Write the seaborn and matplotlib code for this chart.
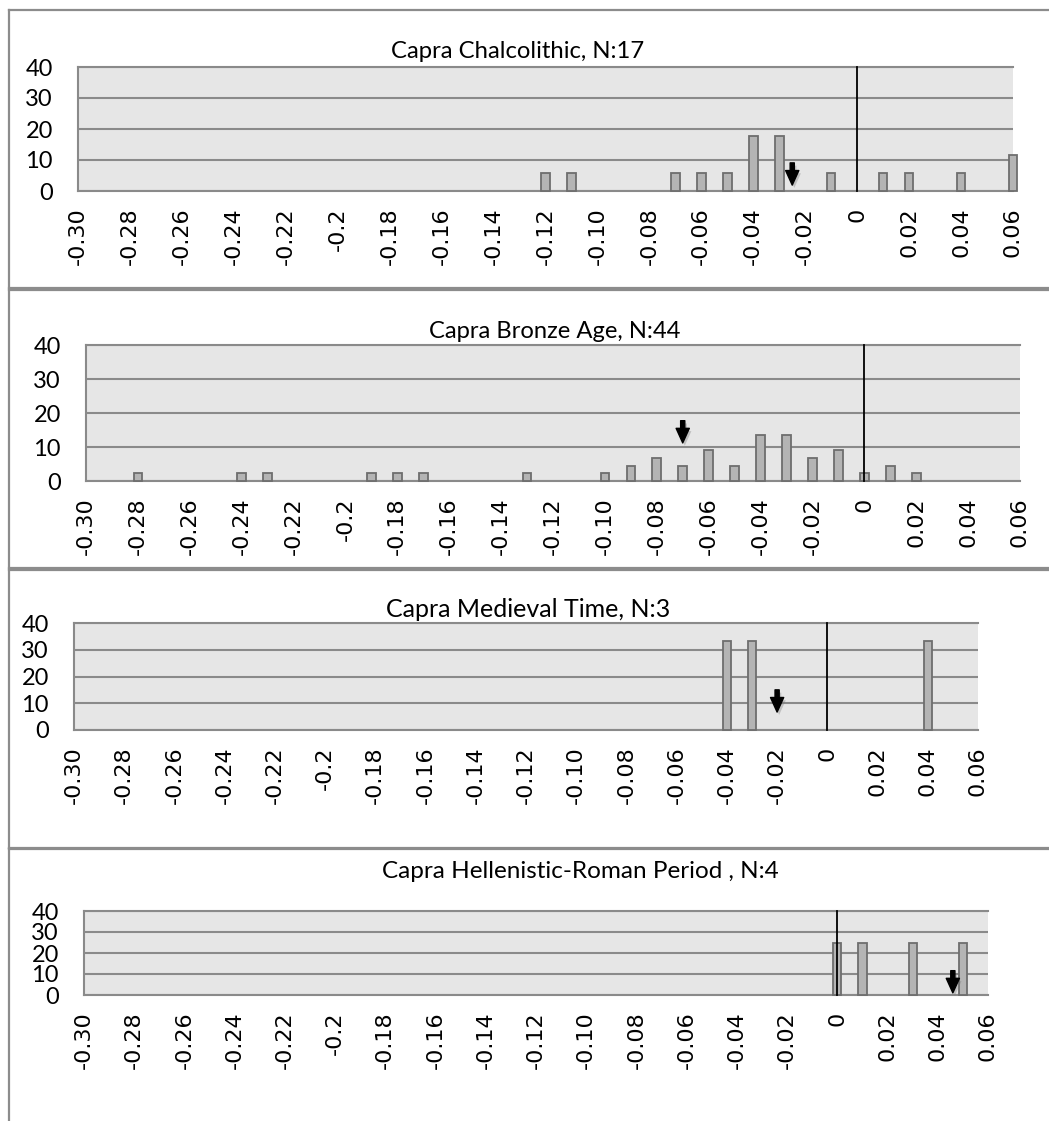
import matplotlib
matplotlib.use("Agg")
import matplotlib.pyplot as plt
import matplotlib.patheffects as pe
from matplotlib.lines import Line2D
import seaborn as sns
import pandas as pd

# ---- data: percentage of specimens per 0.01 bin ----
bins_chalcolithic = [-0.12, -0.11, -0.07, -0.06, -0.05, -0.04, -0.03, -0.01, 0.01, 0.02, 0.04, 0.06]
pct_chalcolithic = [5.88, 5.88, 5.88, 5.88, 5.88, 17.65, 17.65, 5.88, 5.88, 5.88, 5.88, 11.76]

bins_bronze = [-0.28, -0.24, -0.23, -0.19, -0.18, -0.17, -0.13, -0.10, -0.09, -0.08,
               -0.07, -0.06, -0.05, -0.04, -0.03, -0.02, -0.01, 0.00, 0.01, 0.02]
pct_bronze = [2.27, 2.27, 2.27, 2.27, 2.27, 2.27, 2.27, 2.27, 4.55, 6.82,
              4.55, 9.09, 4.55, 13.64, 13.64, 6.82, 9.09, 2.27, 4.55, 2.27]

bins_medieval = [-0.04, -0.03, 0.04]
pct_medieval = [33.33, 33.33, 33.33]

bins_hellenistic = [0.00, 0.01, 0.03, 0.05]
pct_hellenistic = [25.0, 25.0, 25.0, 25.0]

titles = ["Capra Chalcolithic, N:17",
          "Capra Bronze Age, N:44",
          "Capra Medieval Time, N:3",
          "Capra Hellenistic-Roman Period , N:4"]

# arrow markers (x position, height of the arrow tip)
arrow_x = [-0.025, -0.07, -0.02, 0.046]
arrow_tip = [1.9, 11.2, 6.7, 1.0]

x_ticks = [-0.30, -0.28, -0.26, -0.24, -0.22, -0.20, -0.18, -0.16, -0.14, -0.12,
           -0.10, -0.08, -0.06, -0.04, -0.02, 0.00, 0.02, 0.04, 0.06]
x_tick_labels = ["-0.30", "-0.28", "-0.26", "-0.24", "-0.22", "-0.2", "-0.18", "-0.16",
                 "-0.14", "-0.12", "-0.10", "-0.08", "-0.06", "-0.04", "-0.02", "0",
                 "0.02", "0.04", "0.06"]
y_ticks = [0, 10, 20, 30, 40]

panels = [
    (bins_chalcolithic, pct_chalcolithic),
    (bins_bronze, pct_bronze),
    (bins_medieval, pct_medieval),
    (bins_hellenistic, pct_hellenistic),
]

# ---- layout (pixels) ----
W, H = 1049, 1121
axes_px = [  # left, top, right, bottom
    (78, 67, 1013, 191),
    (86, 345, 1020, 481),
    (74, 623, 978, 730),
    (84, 911, 988, 995),
]
title_px = [(518, 58, 254), (555, 338, 253), (528, 617, 286), (580, 878, 398)]
frames_px = [(10, 288), (290, 568), (570, 848), (849, None)]

FRAME = "#8c8c8c"
GRID = "#8a8a8a"
PLOT_BG = "#e6e6e6"
BAR_FILL = "#b4b4b4"
BAR_EDGE = "#6e6e6e"

fig = plt.figure(figsize=(W / 100, H / 100), dpi=100)
fig.patch.set_facecolor("white")

# chart frames
for top, bottom in frames_px:
    yb = H if bottom is None else bottom
    fig.add_artist(Line2D([9 / W, 1.0], [1 - top / H, 1 - top / H],
                          transform=fig.transFigure, color=FRAME, lw=1.6))
    fig.add_artist(Line2D([9 / W, 9 / W], [1 - top / H, 1 - yb / H],
                          transform=fig.transFigure, color=FRAME, lw=1.6))
    if bottom is not None:
        fig.add_artist(Line2D([9 / W, 1.0], [1 - bottom / H, 1 - bottom / H],
                              transform=fig.transFigure, color=FRAME, lw=1.6))

renderer = fig.canvas.get_renderer()

for i, ((bins, pct), (l, t, r, b)) in enumerate(zip(panels, axes_px)):
    ax = fig.add_axes([l / W, 1 - b / H, (r - l) / W, (b - t) / H])
    df = pd.DataFrame({"bin": bins, "pct": pct})
    sns.barplot(data=df, x="bin", y="pct", native_scale=True, width=0.33,
                color=BAR_FILL, saturation=1, edgecolor=BAR_EDGE, linewidth=1.3,
                errorbar=None, ax=ax, clip_on=False, zorder=3)
    ax.set_facecolor(PLOT_BG)
    ax.set_xlim(-0.30, 0.06)
    ax.set_ylim(0, 40)
    ax.set_xlabel("")
    ax.set_ylabel("")

    ax.set_yticks(y_ticks)
    ax.set_yticklabels([str(v) for v in y_ticks], family="Lato", fontsize=17)
    ax.set_xticks(x_ticks)
    ax.set_xticklabels(x_tick_labels, rotation=90, family="DejaVu Sans", fontsize=16)
    ax.tick_params(axis="x", length=0, pad=12)
    ax.tick_params(axis="y", length=0, pad=18)

    ax.yaxis.grid(True, color=GRID, lw=1.5, zorder=1)
    ax.xaxis.grid(False)
    ax.set_axisbelow(True)
    for side in ("left", "bottom", "top"):
        ax.spines[side].set_color(GRID)
        ax.spines[side].set_linewidth(1.5)
    ax.spines["right"].set_visible(False)

    # zero reference line
    ax.plot([0, 0], [0, 40], color="black", lw=1.3, zorder=5, clip_on=False)

    # arrow marker
    ann = ax.annotate("", xy=(arrow_x[i], arrow_tip[i]), xytext=(0, 16),
                      textcoords="offset points",
                      arrowprops=dict(arrowstyle="simple,head_length=10.5,head_width=9.5,tail_width=3",
                                      mutation_scale=1, color="black",
                                      shrinkA=0, shrinkB=0),
                      zorder=6)
    ann.arrow_patch.set_path_effects([
        pe.SimplePatchShadow(offset=(1.5, -2), shadow_rgbFace="#777777", alpha=0.35),
        pe.Normal()])

    # panel title, sized to its line width
    cx, base, width_px = title_px[i]
    txt = fig.text(cx / W, 1 - base / H, titles[i], ha="center", va="baseline",
                   family="Lato", fontsize=16, color="black")
    w = txt.get_window_extent(renderer).width
    txt.set_fontsize(16 * width_px / w)

fig.savefig("out.png", dpi=100, facecolor="white")
